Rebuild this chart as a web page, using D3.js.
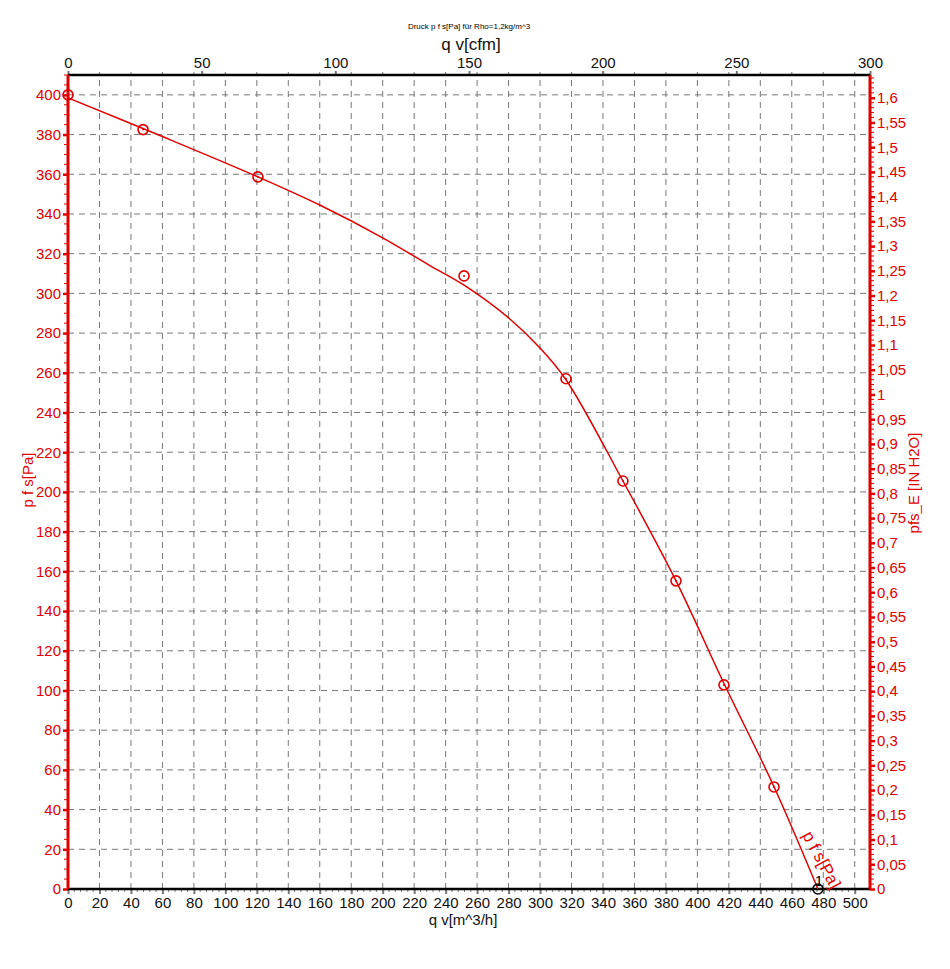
<!DOCTYPE html>
<html>
<head>
<meta charset="utf-8">
<script src="https://cdn.jsdelivr.net/npm/d3@7"></script>
<style>
body { margin: 0; background: #fff; }
text { font-family: "Liberation Sans", Arial, sans-serif; }
</style>
</head>
<body>
<script>
// measured points (q v in m^3/h, p f s in Pa)
var pointQv = [0, 47.7, 120.7, 251.7, 316.5, 352.7, 386.4, 416.9, 448.7];
var pointPf = [400, 382.5, 358.7, 308.8, 257, 205.5, 155.2, 102.8, 51.4];

// fitted curve
var curveQv = [0, 60, 120.7, 160, 200, 230, 252, 281, 300, 316.5, 352.7, 386.4, 416.9, 448.7, 476.6];
var curvePf = [398.5, 379, 358.7, 344.5, 328, 314, 304, 287, 272.5, 256.5, 205.5, 155.2, 103.5, 51.5, 0];

var endPoint = [476.6, 0];

var titleText = "Druck p f s[Pa] für Rho=1,2kg/m^3";
var cfmTicks = [0, 50, 100, 150, 200, 250, 300];

var CFM = 1.69901, INH2O = 249.089;
var plotL = 68, plotR = 870, plotT = 75, plotB = 889;

var svg = d3.select("body").append("svg")
    .attr("width", 950)
    .attr("height", 969);

var x = d3.scaleLinear().domain([0, 300 * CFM]).range([plotL, plotR]);
var xc = d3.scaleLinear().domain([0, 300]).range([plotL, plotR]);
var y = d3.scaleLinear().domain([0, 410]).range([plotB, plotT]);
var yi = d3.scaleLinear().domain([0, 410 / INH2O]).range([plotB, plotT]);

var de = d3.formatLocale({decimal: ",", thousands: ".", grouping: [3], currency: ["", ""]});
var fmtIn = de.format(".2~f");

// grid
var grid = svg.append("g")
    .attr("stroke", "#777")
    .attr("stroke-dasharray", "6,5")
    .attr("stroke-width", 1);
grid.selectAll(".vg")
    .data(d3.range(20, 501, 20))
    .enter().append("line")
    .attr("x1", function (d) { return x(d); })
    .attr("x2", function (d) { return x(d); })
    .attr("y1", plotB)
    .attr("y2", plotT - 3);
grid.selectAll(".hg")
    .data(d3.range(20, 401, 20))
    .enter().append("line")
    .attr("x1", plotL)
    .attr("x2", plotR)
    .attr("y1", function (d) { return y(d); })
    .attr("y2", function (d) { return y(d); });

// bottom axis m^3/h
var bx = svg.append("g")
    .attr("transform", "translate(0," + plotB + ")")
    .call(d3.axisBottom(x).tickValues(d3.range(0, 501, 20)).tickSize(5).tickPadding(3).tickFormat(d3.format("d")));
bx.select(".domain").remove();
bx.selectAll(".tick line").attr("stroke", "#777").attr("stroke-width", 2);
bx.selectAll("text").attr("font-size", 15).attr("fill", "#111").attr("font-family", "Liberation Sans, Arial");
svg.append("g").selectAll("line")
    .data(d3.range(0, 501, 4).filter(function (d) { return d % 20 != 0; }))
    .enter().append("line")
    .attr("x1", function (d) { return x(d); })
    .attr("x2", function (d) { return x(d); })
    .attr("y1", plotB)
    .attr("y2", plotB + 3)
    .attr("stroke", "#777");

// top axis cfm
var tx = svg.append("g")
    .attr("transform", "translate(0," + plotT + ")")
    .call(d3.axisTop(xc).tickValues(cfmTicks).tickSize(4).tickPadding(3));
tx.select(".domain").remove();
tx.selectAll(".tick line").attr("stroke", "#777").attr("stroke-width", 2);
tx.selectAll("text").attr("font-size", 15).attr("fill", "#111").attr("font-family", "Liberation Sans, Arial");

// left axis Pa
var ly = svg.append("g")
    .attr("transform", "translate(" + plotL + ",0)")
    .call(d3.axisLeft(y).tickValues(d3.range(0, 401, 20)).tickSize(5).tickPadding(2));
ly.select(".domain").remove();
ly.selectAll(".tick line").attr("stroke", "#e00000").attr("stroke-width", 2.5);
ly.selectAll("text").attr("font-size", 15).attr("fill", "#e00000").attr("font-family", "Liberation Sans, Arial");
svg.append("g").selectAll("line")
    .data(d3.range(0, 411, 5).filter(function (d) { return d % 20 != 0; }))
    .enter().append("line")
    .attr("x1", plotL)
    .attr("x2", plotL - 4)
    .attr("y1", function (d) { return y(d); })
    .attr("y2", function (d) { return y(d); })
    .attr("stroke", "#e00000");

// right axis IN H2O
var ry = svg.append("g")
    .attr("transform", "translate(" + plotR + ",0)")
    .call(d3.axisRight(yi).tickValues(d3.range(0, 33).map(function (i) { return i * 0.05; }))
        .tickSize(5).tickPadding(2).tickFormat(fmtIn));
ry.select(".domain").remove();
ry.selectAll(".tick line").attr("stroke", "#e00000").attr("stroke-width", 2.5);
ry.selectAll("text").attr("font-size", 15).attr("fill", "#e00000").attr("font-family", "Liberation Sans, Arial");
svg.append("g").selectAll("line")
    .data(d3.range(0, 165).filter(function (i) { return i % 5 != 0; }).map(function (i) { return i * 0.01; }))
    .enter().append("line")
    .attr("x1", plotR)
    .attr("x2", plotR + 4)
    .attr("y1", function (d) { return yi(d); })
    .attr("y2", function (d) { return yi(d); })
    .attr("stroke", "#e00000");

// frame lines
svg.append("line").attr("x1", plotL).attr("x2", plotR).attr("y1", plotT).attr("y2", plotT)
    .attr("stroke", "#000").attr("stroke-width", 2.5);
svg.append("line").attr("x1", plotL).attr("x2", plotR).attr("y1", plotB).attr("y2", plotB)
    .attr("stroke", "#000").attr("stroke-width", 2.5);
svg.append("line").attr("x1", plotL).attr("x2", plotL).attr("y1", plotT).attr("y2", plotB)
    .attr("stroke", "#e00000").attr("stroke-width", 3);
svg.append("line").attr("x1", plotR).attr("x2", plotR).attr("y1", plotT).attr("y2", plotB)
    .attr("stroke", "#e00000").attr("stroke-width", 3);

// curve
var line = d3.line()
    .x(function (d) { return x(d[0]); })
    .y(function (d) { return y(d[1]); })
    .curve(d3.curveCatmullRom.alpha(0.5));
svg.append("path")
    .datum(curveQv.map(function (d, i) { return [d, curvePf[i]]; }))
    .attr("d", line)
    .attr("fill", "none")
    .attr("stroke", "#e00000")
    .attr("stroke-width", 1.5);

// markers
var pts = pointQv.map(function (d, i) { return [d, pointPf[i]]; });
svg.append("g").selectAll("circle")
    .data(pts)
    .enter().append("circle")
    .attr("cx", function (d) { return x(d[0]); })
    .attr("cy", function (d) { return y(d[1]); })
    .attr("r", 5)
    .attr("fill", "none")
    .attr("stroke", "#e00000")
    .attr("stroke-width", 1.6);
svg.append("g").selectAll("circle")
    .data(pts)
    .enter().append("circle")
    .attr("cx", function (d) { return x(d[0]); })
    .attr("cy", function (d) { return y(d[1]); })
    .attr("r", 1)
    .attr("fill", "#e00000");

// end marker
svg.append("circle")
    .attr("cx", x(endPoint[0]))
    .attr("cy", y(endPoint[1]))
    .attr("r", 5)
    .attr("fill", "none")
    .attr("stroke", "#000")
    .attr("stroke-width", 1.5);
svg.append("text")
    .attr("x", x(endPoint[0]) + 1)
    .attr("y", y(endPoint[1]) - 3)
    .attr("text-anchor", "middle")
    .attr("font-size", 15)
    .attr("fill", "#000")
    .text("1");

// curve label
svg.append("text")
    .attr("transform", "translate(" + (x(endPoint[0]) - 16) + "," + (y(endPoint[1]) - 54) + ") rotate(62)")
    .attr("font-size", 17)
    .attr("fill", "#e00000")
    .text("p f s[Pa]");

// titles
svg.append("text")
    .attr("x", 469).attr("y", 29)
    .attr("text-anchor", "middle")
    .attr("font-size", 8)
    .attr("fill", "#000")
    .text(titleText);
svg.append("text")
    .attr("x", 471).attr("y", 50)
    .attr("text-anchor", "middle")
    .attr("font-size", 17)
    .attr("fill", "#111")
    .text("q v[cfm]");
svg.append("text")
    .attr("x", 463).attr("y", 925)
    .attr("text-anchor", "middle")
    .attr("font-size", 15)
    .attr("fill", "#111")
    .text("q v[m^3/h]");
svg.append("text")
    .attr("transform", "translate(33,480) rotate(-90)")
    .attr("text-anchor", "middle")
    .attr("font-size", 15)
    .attr("fill", "#e00000")
    .text("p f s[Pa]");
svg.append("text")
    .attr("transform", "translate(919,483) rotate(-90)")
    .attr("text-anchor", "middle")
    .attr("font-size", 15)
    .attr("fill", "#e00000")
    .text("pfs_E [IN H2O]");
</script>
</body>
</html>
